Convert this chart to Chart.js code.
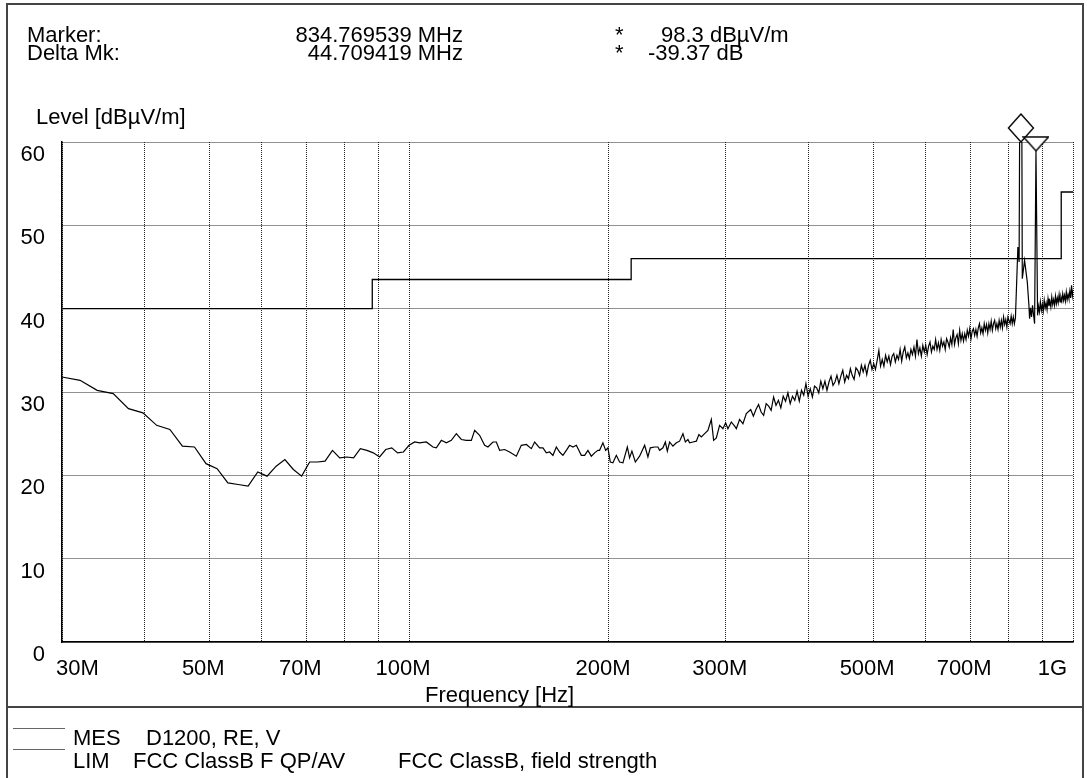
<!DOCTYPE html>
<html>
<head>
<meta charset="utf-8">
<script src="https://cdn.jsdelivr.net/npm/chart.js@4.4.0/dist/chart.umd.min.js"></script>
<style>
  body { margin: 0; background: #fff; }
  #wrap { position: relative; width: 1087px; height: 778px; overflow: hidden;
          font-family: "Liberation Sans", Arial, sans-serif; font-size: 22px; color: #000; }
  #wrap canvas { position: absolute; left: 0; top: 0; }
  .t { position: absolute; white-space: pre; line-height: 22px; }
  .ln { position: absolute; background: #444; }
</style>
</head>
<body>
<div id="wrap">
  <canvas id="emc" width="1087" height="778"></canvas>

  <div class="ln" style="left:6px; top:3px; width:1078px; height:2px"></div>
  <div class="ln" style="left:6px; top:3px; width:2px; height:780px"></div>
  <div class="ln" style="left:1082px; top:3px; width:2px; height:780px"></div>
  <div class="ln" style="left:6px; top:706px; width:1078px; height:2px"></div>

  <div class="t" style="left:27px; top:24px">Marker:</div>
  <div class="t" style="left:27px; top:42px">Delta Mk:</div>
  <div class="t" style="right:624px; top:24px">834.769539 MHz</div>
  <div class="t" style="right:624px; top:42px">44.709419 MHz</div>
  <div class="t" style="left:615px; top:24px">*</div>
  <div class="t" style="left:615px; top:42px">*</div>
  <div class="t" style="left:661px; top:24px">98.3 dBµV/m</div>
  <div class="t" style="left:648px; top:42px">-39.37 dB</div>

  <div class="t" style="left:36px; top:106px">Level [dBµV/m]</div>
  <div class="t" style="left:425px; top:684px">Frequency [Hz]</div>

  <div class="ln" style="left:13px; top:728px; width:52px; height:1px; background:#666"></div>
  <div class="ln" style="left:13px; top:749px; width:52px; height:1px; background:#666"></div>
  <div class="t" style="left:73px; top:727px">MES</div>
  <div class="t" style="left:146px; top:727px">D1200, RE, V</div>
  <div class="t" style="left:73px; top:750px">LIM</div>
  <div class="t" style="left:133px; top:750px">FCC ClassB F QP/AV</div>
  <div class="t" style="left:398px; top:750px">FCC ClassB, field strength</div>
</div>

<script>
// axis setup
const yMin = 0, yMax = 60;
const yTicks = [0, 10, 20, 30, 40, 50, 60];
const gridFreqs = [30, 40, 50, 60, 70, 80, 90, 100, 200, 300, 400, 500, 600, 700, 800, 900, 1000];
const labelFreqs = [30, 50, 70, 100, 200, 300, 500, 700, 1000];
const labelTexts = ['30M', '50M', '70M', '100M', '200M', '300M', '500M', '700M', '1G'];

// FCC class B limit (MHz, dBuV/m)
const limFreq = [30, 88, 88, 216, 216, 960, 960, 1000];
const limLevel = [40, 40, 43.5, 43.5, 46, 46, 54, 54];

const mesFreq = [
  30, 31.94, 33.89, 35.83, 37.78, 39.72, 41.66, 43.61, 45.55, 47.5,
  49.44, 51.38, 53.33, 55.27, 57.21, 59.16, 61.1, 63.05, 64.99, 66.93,
  68.88, 70.82, 72.77, 74.71, 76.65, 78.6, 80.54, 82.49, 84.43, 86.37,
  88.32, 90.26, 92.2, 94.15, 96.09, 98.04, 99.98,
  101.93, 103.7, 106.15, 108.61, 109.9, 111.82, 113.78, 115.76, 117.79, 119.85,
  121.95, 124.08, 125.52, 127.69, 129.95, 131.43, 133.74, 135.32, 136.86, 139.28,
  141.69, 145.04, 147.57, 150.16, 152.78, 154.55, 157.23, 159.06, 160.95, 162.78,
  164.67, 166.63, 168.52, 170.48, 172.51, 174.47, 176.5, 178.6, 181.71, 183.82,
  185.92, 188.12, 190.3, 192.48, 193.6, 195.85, 197.7, 199.27, 200.93, 202.77,
  205.17, 207.51, 209.93, 213.15, 214.83, 216.57, 219.15, 222.41, 226.34, 228.93,
  230.83, 234.33, 237.01, 238.39, 241.17, 243.18, 244.87, 246.8, 249.67, 252.64,
  255.51, 258.49, 260.65, 263.0, 264.53, 267.61, 270.78, 273.21, 275.5, 278.7,
  281.89, 285.23, 287.53, 290.23, 293.53, 296.95, 299.75, 302.13, 305.71, 309.26,
  311.08, 314.62, 318.28, 322.06,
  327, 330, 333, 336, 339, 342, 345, 348, 351, 354,
  357, 360, 363, 366, 369, 372, 375, 378, 381, 384,
  387, 390, 393, 396, 399, 402, 405, 408, 411, 414,
  417, 420, 423, 426, 429, 432, 435, 438, 441, 444,
  447, 450, 453, 456, 459, 462, 465, 468, 471, 474,
  477, 480, 483, 486, 489, 492, 495, 498, 501, 504,
  507, 510, 513, 516, 519, 522, 525, 528, 531, 534,
  537, 540, 543, 546, 549, 552, 555, 558, 561, 564,
  567, 570, 573, 576, 579, 582, 585, 588, 591, 594,
  597, 600, 603, 606, 609, 612, 615, 618, 621, 624,
  627, 630, 633, 636, 639, 642, 645, 648, 651, 654,
  657, 660, 663, 666, 669, 672, 675, 678, 681, 684,
  687, 690, 693, 696, 699, 702, 705, 708, 711, 714,
  717, 720, 723, 726, 729, 732, 735, 738, 741, 744,
  747, 750, 753, 756, 759, 762, 765, 768, 771, 774,
  777, 780, 783, 786, 789, 792, 795, 798, 801, 804,
  807, 810, 813, 816, 819,
  823.2, 826.0, 829.5, 834.77, 838.7, 845.4, 853.4, 858.2, 860.22,
  863, 866, 869, 872, 875.27, 879.48, 884.41, 887, 890, 893,
  896, 899, 902, 905, 908, 911, 914, 917, 920, 923,
  926, 929, 932, 935, 938, 941, 944, 947, 950, 953,
  956, 959, 962, 965, 968, 971, 974, 977, 980, 983,
  986, 989, 992, 995, 998, 1000
];
const mesLevel = [
  31.8, 31.4, 30.2, 29.8, 28.0, 27.5, 26.0, 25.5, 23.5, 23.4,
  21.4, 20.8, 19.1, 18.9, 18.7, 20.4, 19.9, 21.1, 21.9, 20.7,
  19.9, 21.6, 21.6, 21.7, 23.0, 22.1, 22.2, 22.1, 23.2, 23.0,
  22.7, 22.2, 23.1, 23.3, 22.7, 22.8, 23.6,
  24.0, 23.9, 24.0, 23.4, 23.3, 24.2, 23.9, 24.2, 25.0, 24.3,
  24.2, 24.2, 25.4, 24.8, 23.6, 23.4, 24.0, 24.0, 23.0, 23.1,
  22.8, 22.3, 23.6, 23.7, 23.2, 24.0, 23.3, 23.3, 22.7, 22.8,
  22.4, 23.4, 22.8, 22.4, 23.0, 23.6, 23.4, 23.6, 22.4, 22.4,
  23.0, 22.3, 22.7, 23.0, 23.0, 23.9, 23.0, 23.3, 21.6, 21.5,
  22.4, 21.6, 21.5, 23.4, 22.1, 22.9, 21.6, 22.3, 23.6, 22.2,
  23.3, 23.4, 23.4, 23.0, 23.3, 24.0, 22.9, 24.0, 23.5, 23.9,
  24.1, 25.0, 24.0, 24.3, 23.9, 24.0, 24.1, 24.9, 24.6, 25.0,
  25.4, 26.7, 24.2, 24.5, 26.0, 25.6, 26.3, 25.6, 26.4, 25.9,
  25.6, 26.7, 26.2, 27.4,
  27.9, 27.1, 27.9, 28.5, 27.6, 27.2, 28.6, 28.3, 27.8, 29.4,
  28.4, 29.0, 28.1, 29.5, 28.9, 29.9, 28.6, 29.5, 29.0, 30.1,
  28.9, 30.2, 29.6, 31.0, 29.5, 30.4, 29.4, 30.7, 30.5, 29.9,
  31.3, 30.4, 31.3, 30.2, 31.2, 31.9, 30.8, 31.2, 32.0, 31.0,
  31.9, 32.6, 31.2, 32.0, 31.6, 32.8, 32.0, 31.5, 32.9, 32.6,
  32.0, 33.2, 32.4, 33.2, 32.1, 33.2, 33.8, 32.7, 33.4, 32.7,
  33.8, 35.0, 33.1, 33.9, 33.1, 34.4, 33.6, 34.3, 33.3, 34.3,
  34.6, 33.6, 34.4, 33.9, 35.1, 33.7, 34.8, 35.4, 34.1, 34.7,
  34.0, 35.1, 34.5, 35.4, 34.3, 36.3, 34.6, 35.3, 34.3, 35.6,
  34.8, 35.6, 34.5, 35.5, 36.0, 34.8, 35.5, 35.1, 36.3, 35.1,
  35.9, 35.0, 36.3, 35.5, 36.0, 35.1, 36.4, 36.0, 35.4, 36.5,
  35.7, 37.5, 35.7, 36.5, 36.9, 35.8, 37.4, 36.2, 37.0, 36.1,
  37.0, 36.3, 37.4, 36.7, 37.6, 36.4, 37.3, 37.6, 36.8, 37.5,
  36.7, 37.7, 38.2, 37.1, 37.7, 37.0, 38.2, 37.4, 38.1, 37.1,
  38.2, 37.5, 38.5, 37.4, 38.2, 38.6, 37.6, 38.2, 37.5, 38.6,
  37.8, 38.6, 37.7, 39.0, 38.1, 38.7, 37.8, 39.0, 38.6, 38.2,
  39.1, 38.2, 39.0, 38.2, 38.9,
  44.0, 47.4, 45.6, 98.3, 43.6, 45.8, 43.2, 40.4, 38.8,
  40.1, 39.0, 40.4, 39.3, 38.2, 58.93, 39.2, 40.3, 39.6, 40.8,
  39.8, 40.5, 39.7, 41.0, 40.1, 40.7, 39.9, 41.2, 40.3, 40.9,
  40.2, 41.4, 40.5, 41.1, 40.4, 41.5, 40.6, 41.3, 40.7, 41.7,
  40.8, 41.4, 40.9, 41.8, 41.0, 41.6, 40.9, 42.0, 41.1, 41.7,
  41.2, 42.1, 41.3, 42.8, 41.6, 42.2
];

// marker and delta marker
const markerFreq = [834.769539, 879.478958];
const markerLevel = [98.3, 58.93];

const fontFamily = '"Liberation Sans", Arial, sans-serif';

// diamond sitting on top of its point, triangle with its tip on the point
function diamondImg() {
  const c = document.createElement('canvas');
  c.width = 28; c.height = 58;
  const g = c.getContext('2d');
  g.fillStyle = '#fff'; g.strokeStyle = '#000'; g.lineWidth = 1.4;
  g.beginPath();
  g.moveTo(14, 1); g.lineTo(26.5, 15); g.lineTo(14, 29); g.lineTo(1.5, 15);
  g.closePath(); g.fill(); g.stroke();
  return c;
}
function triangleImg() {
  const c = document.createElement('canvas');
  c.width = 27; c.height = 30;
  const g = c.getContext('2d');
  g.fillStyle = '#fff'; g.strokeStyle = '#000'; g.lineWidth = 1.4;
  g.beginPath();
  g.moveTo(1, 1); g.lineTo(26, 1); g.lineTo(13.5, 15);
  g.closePath(); g.fill(); g.stroke();
  return c;
}

const mesData = mesFreq.map((f, i) => ({ x: f, y: mesLevel[i] }));
const limData = limFreq.map((f, i) => ({ x: f, y: limLevel[i] }));

new Chart(document.getElementById('emc'), {
  type: 'line',
  data: {
    datasets: [
      {
        data: [{ x: markerFreq[1], y: Math.min(markerLevel[1], yMax) }],
        showLine: false, pointStyle: triangleImg(), pointRadius: 10, clip: false
      },
      {
        data: [{ x: markerFreq[0], y: Math.min(markerLevel[0], yMax) }],
        showLine: false, pointStyle: diamondImg(), pointRadius: 10, clip: false
      },
      {
        data: mesData, borderColor: '#000', borderWidth: 1.2,
        pointRadius: 0, tension: 0, fill: false
      },
      {
        data: limData, borderColor: '#000', borderWidth: 1.3,
        pointRadius: 0, tension: 0, fill: false
      }
    ]
  },
  options: {
    responsive: false,
    animation: false,
    events: [],
    layout: { padding: { left: 0, right: 12, top: 142, bottom: 96 } },
    plugins: { legend: { display: false }, tooltip: { enabled: false } },
    scales: {
      x: {
        type: 'logarithmic', min: 30, max: 1000,
        afterBuildTicks: s => { s.ticks = gridFreqs.map(v => ({ value: v })); },
        afterFit: s => { s.height = 40; },
        ticks: {
          autoSkip: false, maxRotation: 0, align: 'inner', labelOffset: -6, padding: 14,
          color: '#000', font: { family: fontFamily, size: 22 },
          callback: v => { const k = labelFreqs.indexOf(v); return k < 0 ? '' : labelTexts[k]; }
        },
        grid: { color: '#222', lineWidth: 1, drawTicks: false },
        border: { color: '#000', width: 1.5, dash: [1, 1] }
      },
      y: {
        min: yMin, max: yMax,
        afterBuildTicks: s => { s.ticks = yTicks.map(v => ({ value: v })); },
        afterFit: s => { s.width = 62; },
        ticks: {
          padding: 17, labelOffset: 13, color: '#000',
          font: { family: fontFamily, size: 22 }
        },
        grid: { color: '#222', lineWidth: 1, drawTicks: false },
        border: { color: '#000', width: 1.5, dash: [1, 1] }
      }
    }
  }
});
</script>
</body>
</html>
